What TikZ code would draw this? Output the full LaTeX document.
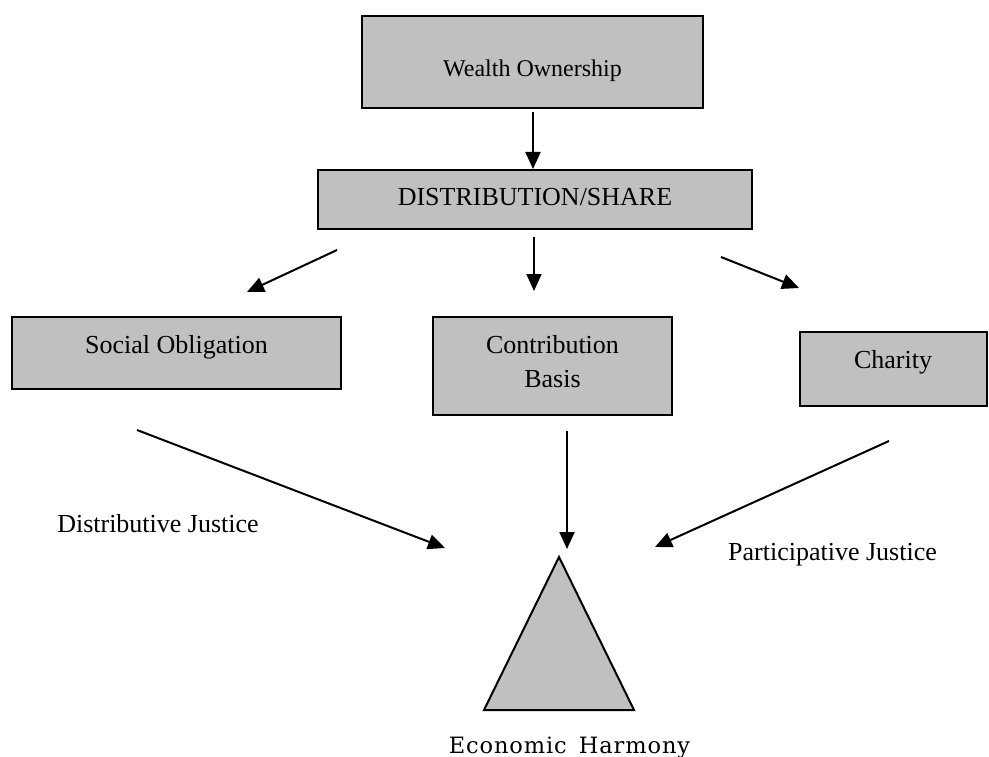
\documentclass[tikz,border=0pt]{standalone}
\usepackage{fontspec}
\setmainfont{Liberation Serif}
\newfontfamily\harmonyfont[LetterSpace=4,WordSpace=1.5]{DejaVu Serif}
\usetikzlibrary{arrows.meta}
\definecolor{boxgray}{RGB}{192,192,192}

\begin{document}
\begin{tikzpicture}[x=1pt,y=-1pt,
  box/.style={draw=black, line width=2pt, fill=boxgray, rectangle,
              inner sep=0pt, font=\fontsize{26}{34}\selectfont},
  arr/.style={line width=2pt, -{Triangle[length=17pt,width=15pt]}},
  lbl/.style={anchor=base, inner sep=0pt, font=\fontsize{26}{34}\selectfont}]
  \useasboundingbox (0,0) rectangle (989,757);

  % boxes
  \node[box, minimum width=341pt, minimum height=92pt,
        text height=34pt, text depth=4pt, font=\fontsize{24}{30}\selectfont]
        (wo) at (532.5,62) {Wealth Ownership};
  \node[box, minimum width=434pt, minimum height=59pt,
        text height=20pt, text depth=7pt]
        (ds) at (535,199.5) {DISTRIBUTION/SHARE};
  \node[box, minimum width=329pt, minimum height=72pt,
        text height=18pt, text depth=18pt]
        (so) at (176.5,353) {Social Obligation};
  \node[box, minimum width=239pt, minimum height=98pt]
        (cb) at (552.5,366) {};
  \node[lbl, align=center] (cbt) at (552.5,387) {Contribution\\Basis};
  \node[box, minimum width=187pt, minimum height=74pt,
        text height=17pt, text depth=19pt]
        (ch) at (893,369) {Charity};

  % triangle
  \coordinate (apex) at (559,557);
  \coordinate (bl) at (484,710);
  \coordinate (br) at (634,710);
  \draw[line width=2pt, fill=boxgray, line join=miter] (apex) -- (br) -- (bl) -- cycle;

  % arrow end points
  \coordinate (a1s) at (533,112);  \coordinate (a1e) at (533,169);
  \coordinate (a2s) at (337,250);  \coordinate (a2e) at (247,292);
  \coordinate (a3s) at (534,237);  \coordinate (a3e) at (534,291);
  \coordinate (a4s) at (721,257);  \coordinate (a4e) at (799,288);
  \coordinate (a5s) at (137,430);  \coordinate (a5e) at (445,548);
  \coordinate (a6s) at (567,431);  \coordinate (a6e) at (567,549);
  \coordinate (a7s) at (889,441);  \coordinate (a7e) at (655,547);

  \draw[arr] (a1s) -- (a1e);
  \draw[arr] (a2s) -- (a2e);
  \draw[arr] (a3s) -- (a3e);
  \draw[arr] (a4s) -- (a4e);
  \draw[arr] (a5s) -- (a5e);
  \draw[arr] (a6s) -- (a6e);
  \draw[arr] (a7s) -- (a7e);

  % labels
  \node[lbl] (dj) at (158,532) {Distributive Justice};
  \node[lbl] (pj) at (832.5,560) {Participative Justice};
  \node[anchor=base, inner sep=0pt, font=\harmonyfont\fontsize{22.5}{26}\selectfont]
        (eh) at (569.5,753) {Economic Harmony};
\end{tikzpicture}
\end{document}
